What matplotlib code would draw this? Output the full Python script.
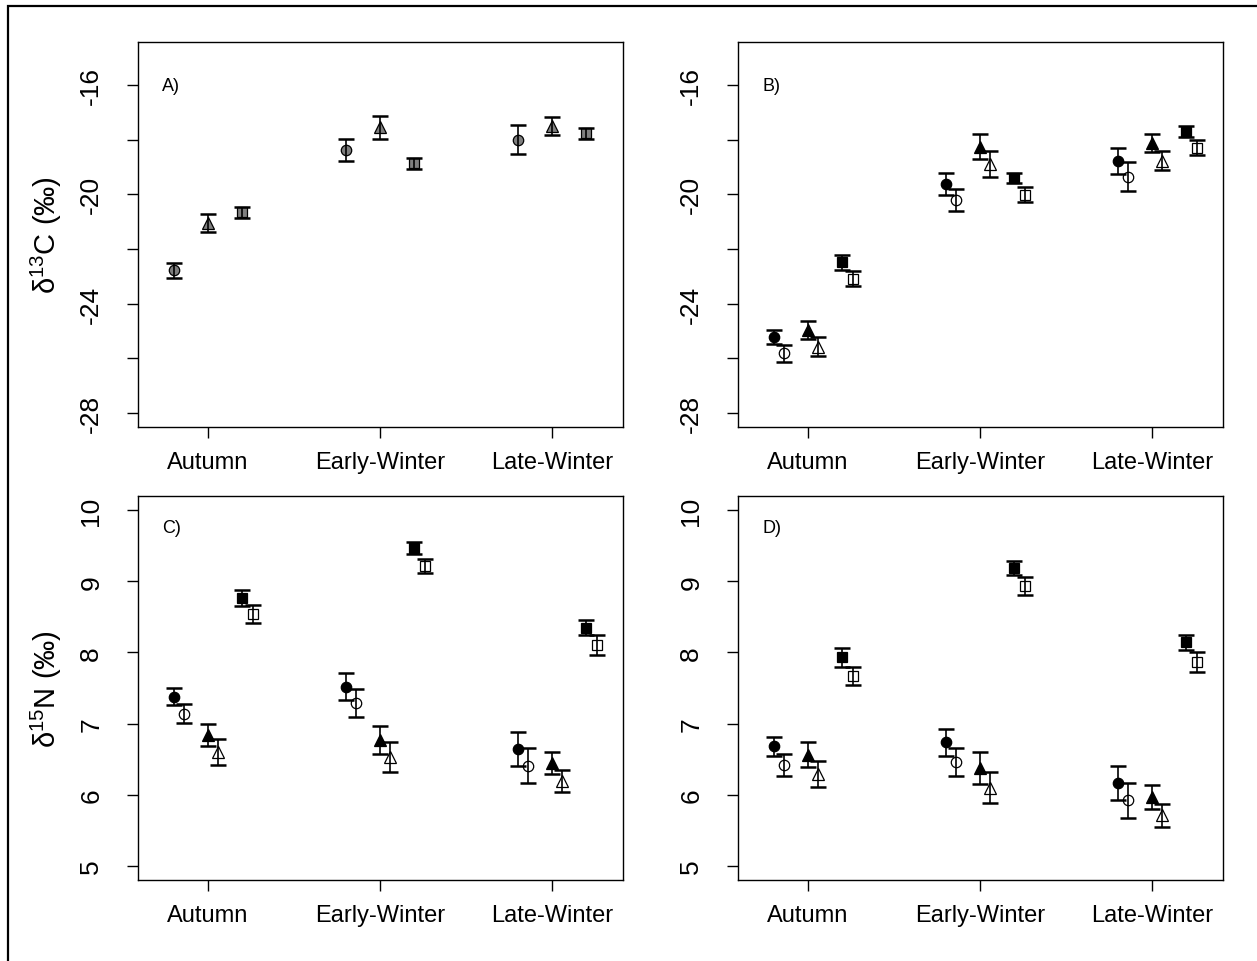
import matplotlib
matplotlib.use('Agg')
import matplotlib.pyplot as plt
import matplotlib.patches as mpatches
import numpy as np

plt.rcParams.update({
    'font.family': ['Liberation Sans', 'DejaVu Sans'],
    'font.size': 16,
    'axes.linewidth': 1.0,
    'mathtext.fontset': 'custom',
    'mathtext.rm': 'Liberation Sans',
    'mathtext.it': 'Liberation Sans:italic',
})

seasons = ['Autumn', 'Early-Winter', 'Late-Winter']

# Panel A: d13C, single (grey) group per species
a_circle = [-22.78, -18.39, -18.00]; a_circle_se = [0.27, 0.40, 0.52]
a_tri    = [-21.06, -17.55, -17.50]; a_tri_se    = [0.33, 0.43, 0.33]
a_sq     = [-20.66, -18.87, -17.77]; a_sq_se     = [0.21, 0.20, 0.21]

# Panel B: d13C, filled vs open
b_circ_f = [-25.22, -19.62, -18.78]; b_circ_f_se = [0.27, 0.40, 0.49]
b_circ_o = [-25.82, -20.21, -19.35]; b_circ_o_se = [0.32, 0.41, 0.52]
b_tri_f  = [-24.98, -18.26, -18.12]; b_tri_f_se  = [0.33, 0.46, 0.32]
b_tri_o  = [-25.58, -18.90, -18.77]; b_tri_o_se  = [0.35, 0.47, 0.34]
b_sq_f   = [-22.49, -19.40, -17.71]; b_sq_f_se   = [0.27, 0.18, 0.20]
b_sq_o   = [-23.08, -20.02, -18.30]; b_sq_o_se   = [0.26, 0.27, 0.27]

# Panel C: d15N
c_circ_f = [7.38, 7.52, 6.64]; c_circ_f_se = [0.125, 0.185, 0.24]
c_circ_o = [7.14, 7.29, 6.41]; c_circ_o_se = [0.135, 0.195, 0.25]
c_tri_f  = [6.84, 6.77, 6.44]; c_tri_f_se  = [0.16, 0.195, 0.155]
c_tri_o  = [6.60, 6.53, 6.19]; c_tri_o_se  = [0.18, 0.21, 0.155]
c_sq_f   = [8.77, 9.47, 8.35]; c_sq_f_se   = [0.11, 0.085, 0.10]
c_sq_o   = [8.54, 9.22, 8.10]; c_sq_o_se   = [0.125, 0.10, 0.14]

# Panel D: d15N
d_circ_f = [6.68, 6.74, 6.17]; d_circ_f_se = [0.135, 0.19, 0.24]
d_circ_o = [6.42, 6.46, 5.92]; d_circ_o_se = [0.155, 0.20, 0.245]
d_tri_f  = [6.56, 6.37, 5.97]; d_tri_f_se  = [0.175, 0.225, 0.165]
d_tri_o  = [6.29, 6.10, 5.71]; d_tri_o_se  = [0.18, 0.22, 0.165]
d_sq_f   = [7.93, 9.19, 8.14]; d_sq_f_se   = [0.13, 0.10, 0.10]
d_sq_o   = [7.67, 8.93, 7.87]; d_sq_o_se   = [0.13, 0.125, 0.14]

c_ticks = [-28, -26, -24, -22, -20, -18, -16]
c_ticklabels = ['-28', '', '-24', '', '-20', '', '-16']
n_ticks = [5, 6, 7, 8, 9, 10]

W, H = 1257, 962
fig = plt.figure(figsize=(W / 100, H / 100), dpi=100)

# outer frame (runs off right and bottom edges)
fig.patches.append(mpatches.Rectangle((8 / W, -0.1), 2, 1 - 7 / H + 0.1,
                   transform=fig.transFigure, fill=False, lw=1.6,
                   edgecolor='black'))

def box(l, t, r, b):
    return [l / W, 1 - b / H, (r - l) / W, (b - t) / H]

axA = fig.add_axes(box(138, 43, 623, 428))
axB = fig.add_axes(box(738, 43, 1223, 428))
axC = fig.add_axes(box(138, 497, 623, 881))
axD = fig.add_axes(box(738, 497, 1223, 881))

x = np.arange(1, 4)
MS = {'o': 7.5, '^': 9, 's': 7}

def pts(ax, xs, ys, se, mk, face):
    ax.plot(xs, ys, ls='none', marker=mk, ms=MS[mk], mfc=face,
            mec='black', mew=0.9, zorder=2)
    ax.errorbar(xs, ys, yerr=se, fmt='none', ecolor='black',
                elinewidth=1.2, capsize=5.8, capthick=1.8, zorder=3)

def pair(ax, off, yf, sf, yo, so, mk):
    pts(ax, x + off, yf, sf, mk, 'black')
    pts(ax, x + off + 0.06, yo, so, mk, 'white')

# A
pts(axA, x - 0.2, a_circle, a_circle_se, 'o', '#7f7f7f')
pts(axA, x, a_tri, a_tri_se, '^', '#7f7f7f')
pts(axA, x + 0.2, a_sq, a_sq_se, 's', '#7f7f7f')

# B
pair(axB, -0.2, b_circ_f, b_circ_f_se, b_circ_o, b_circ_o_se, 'o')
pair(axB, 0.0, b_tri_f, b_tri_f_se, b_tri_o, b_tri_o_se, '^')
pair(axB, 0.2, b_sq_f, b_sq_f_se, b_sq_o, b_sq_o_se, 's')

# C
pair(axC, -0.2, c_circ_f, c_circ_f_se, c_circ_o, c_circ_o_se, 'o')
pair(axC, 0.0, c_tri_f, c_tri_f_se, c_tri_o, c_tri_o_se, '^')
pair(axC, 0.2, c_sq_f, c_sq_f_se, c_sq_o, c_sq_o_se, 's')

# D
pair(axD, -0.2, d_circ_f, d_circ_f_se, d_circ_o, d_circ_o_se, 'o')
pair(axD, 0.0, d_tri_f, d_tri_f_se, d_tri_o, d_tri_o_se, '^')
pair(axD, 0.2, d_sq_f, d_sq_f_se, d_sq_o, d_sq_o_se, 's')

letter_y = [0.888, 0.888, 0.917, 0.917]
for ax, letter, ly in zip([axA, axB, axC, axD], ['A)', 'B)', 'C)', 'D)'], letter_y):
    ax.set_xlim(0.593, 3.413)
    ax.set_xticks(x)
    ax.set_xticklabels(seasons)
    ax.tick_params(axis='x', length=8, width=1, pad=9, labelsize=17)
    ax.tick_params(axis='y', length=8, width=1, pad=17, labelsize=19)
    ax.text(0.05, ly, letter, transform=ax.transAxes, fontsize=13,
            ha='left', va='center')

for ax in [axA, axB]:
    ax.set_ylim(-28.51, -14.43)
    ax.set_yticks(c_ticks)
    ax.set_yticklabels(c_ticklabels, rotation=90, va='center')

for ax in [axC, axD]:
    ax.set_ylim(4.80, 10.20)
    ax.set_yticks(n_ticks)
    ax.set_yticklabels([str(t) for t in n_ticks], rotation=90, va='center')

axA.set_ylabel(r'$\mathregular{\delta^{13}C}$ (‰)', fontsize=21, labelpad=11)
axC.set_ylabel(r'$\mathregular{\delta^{15}N}$ (‰)', fontsize=21, labelpad=11)

fig.savefig('out.png', dpi=100, facecolor='white')
